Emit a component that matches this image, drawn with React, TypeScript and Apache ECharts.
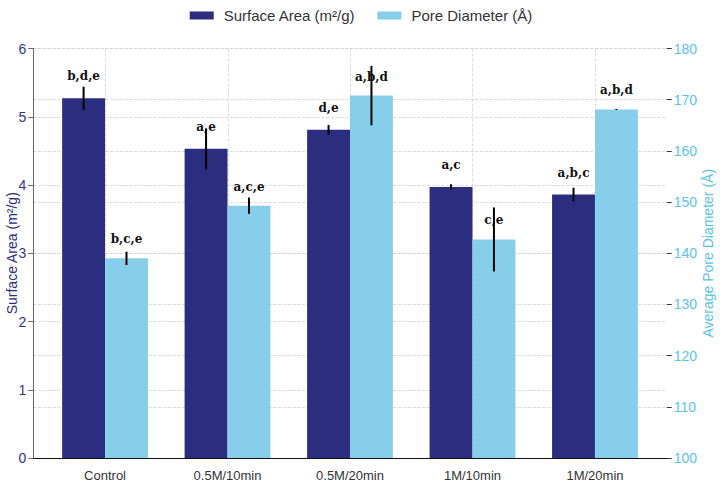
import React, { useEffect, useRef } from 'react';
import * as echarts from 'echarts';

// Treatment groups along the x axis
const categories = ['Control', '0.5M/10min', '0.5M/20min', '1M/10min', '1M/20min'];

// BET surface area (m²/g), standard deviations and significance letters
const surfaceArea = [5.27, 4.53, 4.81, 3.97, 3.86];
const surfaceAreaErr = [0.17, 0.3, 0.07, 0.04, 0.1];
const surfaceAreaLetters = ['b,d,e', 'a,e', 'd,e', 'a,c', 'a,b,c'];

// Average pore diameter (Å), standard deviations and significance letters
const poreDiameter = [139.0, 149.3, 170.8, 142.7, 168.1];
const poreDiameterErr = [1.3, 1.6, 5.8, 6.25, 0.1];
const poreDiameterLetters = ['b,c,e', 'a,c,e', 'a,b,d', 'c,e', 'a,b,d'];

const NAVY = '#2b2d7e';
const SKY = '#87ceeb';
const SKY_TEXT = '#5cc2ea';
const SANS = 'Liberation Sans, Arial, sans-serif';
const BAR_WIDTH = 42.9;
const GRID_COLOR = '#d0d0d0';

const gridLine = { show: true, lineStyle: { type: 'dashed' as const, color: GRID_COLOR, width: 0.8 } };

// Frame grid (axes, horizontal gridlines) and the inset data grid holding the bars
const FRAME = { left: 33.3, right: 55.3, top: 48.5, bottom: 26 };
const DATA = { left: 43.8, right: 65.8, top: 48.5, bottom: 26 };

function errorBarSeries(values: number[], errs: number[], yAxisIndex: number, shift: number) {
  return {
    type: 'custom',
    xAxisIndex: 1,
    yAxisIndex,
    z: 10,
    silent: true,
    data: values.map((v, i) => [i, v - errs[i], v + errs[i]]),
    encode: { x: 0, y: [1, 2] },
    renderItem: (_params: any, api: any) => {
      const lo = api.coord([api.value(0), api.value(1)]);
      const hi = api.coord([api.value(0), api.value(2)]);
      const x = lo[0] + shift;
      return {
        type: 'line',
        shape: { x1: x, y1: lo[1], x2: x, y2: hi[1] },
        style: { stroke: '#000', lineWidth: 2 },
      };
    },
  };
}

function letterLabel(letters: string[], distance: number) {
  return {
    show: true,
    position: 'top' as const,
    distance,
    formatter: (p: any) => letters[p.dataIndex],
    fontFamily: 'DejaVu Serif, serif',
    fontWeight: 'bold' as const,
    fontSize: 12,
    color: '#111',
  };
}

export default function App() {
  const ref = useRef<HTMLDivElement>(null);

  useEffect(() => {
    if (!ref.current) return;
    const chart = echarts.init(ref.current, undefined, { renderer: 'svg' });
    chart.setOption({
      animation: false,
      backgroundColor: '#fff',
      textStyle: { fontFamily: SANS },
      legend: {
        data: ['Surface Area (m²/g)', 'Pore Diameter (Å)'],
        top: 3,
        left: 'center',
        icon: 'rect',
        itemWidth: 24,
        itemHeight: 8,
        itemGap: 22,
        textStyle: { fontSize: 15, color: '#333', fontFamily: SANS, padding: [0, 0, 0, 5] },
      },
      grid: [
        { ...FRAME, containLabel: false, outerBoundsMode: 'none' },
        { ...DATA, containLabel: false, outerBoundsMode: 'none' },
      ],
      xAxis: [
        {
          gridIndex: 0,
          type: 'value',
          min: 0,
          max: 1,
          axisLine: { show: true, lineStyle: { color: '#111', width: 1.2 } },
          axisTick: { show: false },
          axisLabel: { show: false },
          splitLine: { show: false },
        },
        {
          gridIndex: 1,
          type: 'category',
          data: categories,
          axisLine: { show: false },
          axisTick: { show: false },
          splitLine: { show: false },
          axisLabel: { fontSize: 13, color: '#333', margin: 11, fontFamily: SANS },
        },
      ],
      yAxis: [
        {
          gridIndex: 0,
          type: 'value',
          position: 'left',
          min: 0,
          max: 6,
          interval: 1,
          name: 'Surface Area (m²/g)',
          nameLocation: 'middle',
          nameGap: 14,
          nameRotate: 90,
          nameMoveOverlap: false,
          nameTextStyle: { color: NAVY, fontSize: 14, fontFamily: SANS },
          axisLine: { show: true, lineStyle: { color: '#666', width: 1 } },
          axisTick: { show: true, length: 5, lineStyle: { color: '#666' } },
          axisLabel: { color: '#33358f', fontSize: 14, margin: 7, fontFamily: SANS },
          splitLine: gridLine,
        },
        {
          gridIndex: 0,
          type: 'value',
          position: 'right',
          min: 100,
          max: 180,
          interval: 10,
          name: 'Average Pore Diameter (Å)',
          nameLocation: 'middle',
          nameGap: 34,
          nameRotate: 90,
          nameMoveOverlap: false,
          nameTextStyle: { color: SKY_TEXT, fontSize: 14, fontFamily: SANS },
          axisLine: { show: false },
          axisTick: { show: true, length: 5, lineStyle: { color: '#333' } },
          axisLabel: { color: SKY_TEXT, fontSize: 14, margin: 7, fontFamily: SANS },
          splitLine: gridLine,
        },
        { gridIndex: 1, type: 'value', min: 0, max: 6, interval: 1, show: false },
        { gridIndex: 1, type: 'value', min: 100, max: 180, interval: 10, show: false },
      ],
      series: [
        {
          // vertical dashed gridlines through each category centre
          type: 'custom',
          xAxisIndex: 1,
          yAxisIndex: 2,
          z: 1,
          silent: true,
          data: categories.map((_, i) => [i, 0]),
          renderItem: (params: any, api: any) => {
            const cs = params.coordSys;
            const x = Math.round(api.coord([api.value(0), 0])[0]) + 0.5;
            return {
              type: 'line',
              shape: { x1: x, y1: cs.y, x2: x, y2: cs.y + cs.height },
              style: { stroke: GRID_COLOR, lineWidth: 0.8, lineDash: [3, 2] },
            };
          },
        },
        {
          name: 'Surface Area (m²/g)',
          type: 'bar',
          xAxisIndex: 1,
          yAxisIndex: 2,
          barWidth: BAR_WIDTH,
          barGap: '0%',
          itemStyle: { color: NAVY },
          data: surfaceArea,
          label: letterLabel(surfaceAreaLetters, 16),
        },
        {
          name: 'Pore Diameter (Å)',
          type: 'bar',
          xAxisIndex: 1,
          yAxisIndex: 3,
          barWidth: BAR_WIDTH,
          barGap: '0%',
          itemStyle: { color: SKY },
          data: poreDiameter,
          label: letterLabel(poreDiameterLetters, 13),
        },
        errorBarSeries(surfaceArea, surfaceAreaErr, 2, -BAR_WIDTH / 2),
        errorBarSeries(poreDiameter, poreDiameterErr, 3, BAR_WIDTH / 2),
      ],
    });
    return () => chart.dispose();
  }, []);

  return <div ref={ref} style={{ width: 722, height: 484, position: 'absolute', left: 0, top: 0 }} />;
}
